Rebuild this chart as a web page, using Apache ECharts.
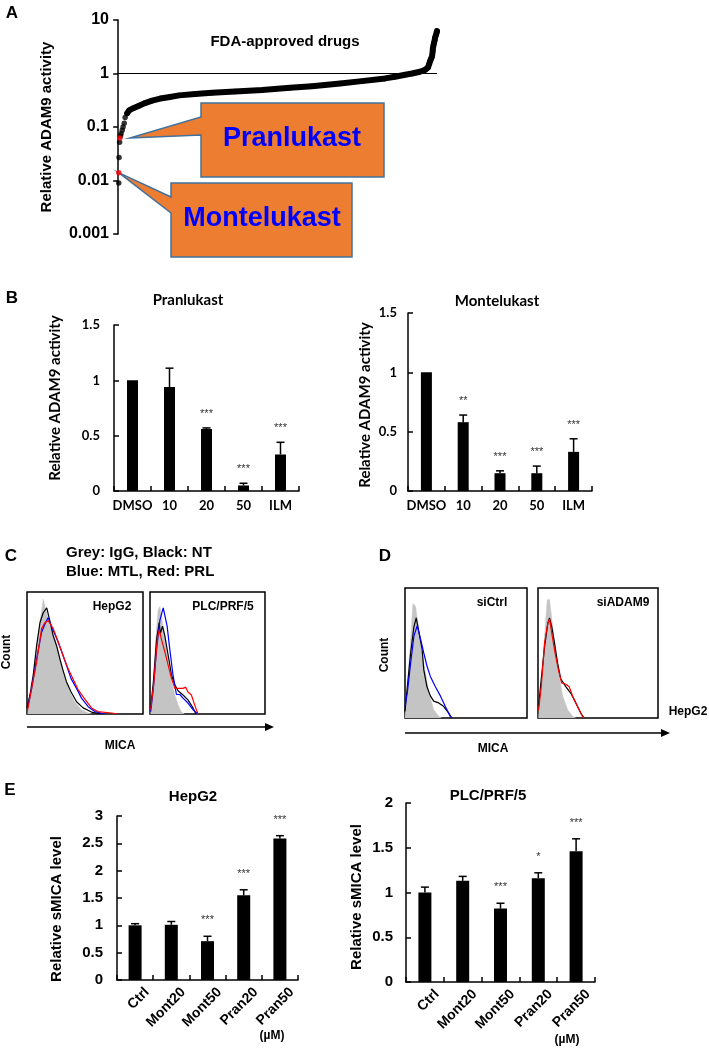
<!DOCTYPE html>
<html><head><meta charset="utf-8">
<script src="https://cdn.jsdelivr.net/npm/echarts/dist/echarts.min.js"></script>
<style>html,body{margin:0;padding:0;background:#fff}#chart{width:709px;height:1048px}</style>
</head><body><div id="chart"></div>
<script>
// ---------- Panel A : FDA-approved drug screen ----------
const aTickLabels = ['0.001', '0.01', '0.1', '1', '10'];
const drugRank = [10, 14, 17, 21, 24, 31, 38, 52, 72, 93, 117, 145, 179, 210, 266, 324, 403, 497, 593, 669, 766, 841, 921, 955, 990, 1014, 1041, 1059, 1069, 1073, 1076, 1080, 1083, 1085, 1086, 1088, 1090, 1092, 1093, 1095, 1097, 1099, 1100];
const drugActivity = [0.075, 0.087, 0.10, 0.117, 0.15, 0.18, 0.205, 0.225, 0.25, 0.28, 0.31, 0.34, 0.365, 0.39, 0.415, 0.435, 0.46, 0.49, 0.54, 0.58, 0.65, 0.72, 0.81, 0.87, 0.95, 1.0, 1.08, 1.17, 1.3, 1.5, 1.7, 1.9, 2.1, 2.6, 3.0, 3.4, 3.8, 4.2, 4.6, 5.0, 5.4, 5.8, 6.2];
const lowRank = [2, 3, 5, 8];
const lowActivity = [0.009, 0.027, 0.052, 0.068];
const highlightNames = ['Montelukast', 'Pranlukast'];
const highlightRank = [2, 6];
const highlightActivity = [0.014, 0.062];

// ---------- Panel B ----------
const bCats = ['DMSO', '10', '20', '50', 'ILM'];
const pranMean = [1.0, 0.94, 0.56, 0.05, 0.33];
const pranErr = [0, 0.17, 0.01, 0.02, 0.11];
const pranSig = ['', '', '***', '***', '***'];
const montMean = [1.0, 0.58, 0.15, 0.15, 0.33];
const montErr = [0, 0.06, 0.02, 0.06, 0.11];
const montSig = ['', '**', '***', '***', '***'];

// ---------- Panel C / D : flow histograms [channel %, count %] ----------
const cHep_IgG = [[0.6,0],[4,21],[8.3,53.5],[11.2,75],[14,94],[16,86],[19.8,72],[24,62],[27,51],[30,40],[32.7,29],[37,18],[41,10],[47,3.5],[52.7,0.8],[55.6,0]];
const cHep_NT = [[0,5],[2.6,16],[5.4,32],[8.3,56],[11.2,75],[14,83],[17,87],[17.8,84],[20,75],[22.6,64],[25.5,56],[28.4,45],[31,36],[34,26.5],[38,18],[42.7,10],[48.4,5],[55.6,1.6],[64,0]];
const cHep_MTL = [[0.6,5],[4,21],[8.3,45],[12.6,67],[16,75],[18.3,79],[21,72],[25.5,62],[30,51],[34,40],[38,29],[42.7,21],[47,13],[52.7,6],[58.5,2],[67,0]];
const cHep_PRL = [[0.6,3.5],[4,21],[8.3,43],[12.6,70],[15.5,75],[18.3,76.5],[22.6,70],[27,59],[31,48],[35.5,37],[40,28],[44,20],[50,12],[55.6,5],[61,2],[72.8,0.8],[78.5,0]];
const cPlc_IgG = [[0.6,0],[2.9,21],[5,61],[7,85],[8.6,88],[10,80],[13,61],[15.8,42],[18.7,26],[21.6,15.6],[24.4,7.5],[27,2],[30,0]];
const cPlc_NT = [[0.6,5],[2.9,26],[5.7,61],[8,75],[9,66],[10.9,72],[12.9,64],[15.8,48],[18.7,32],[21.6,24],[24.4,19],[28.7,15.6],[33,11.6],[37.4,5],[40,0]];
const cPlc_MTL = [[0.6,2],[2.9,21],[5.7,53],[8.6,77],[11.5,87],[12.9,86],[14.9,72],[17.2,53],[20,32],[23,16],[25.9,16],[28.7,13],[33,9],[37.4,3.5],[41.7,0]];
const cPlc_PRL = [[0.6,3.5],[3.4,26],[6.3,61],[8,69],[10,61],[12.9,51],[15.8,40],[18.7,29],[21.6,21],[25.9,21],[28.7,21],[31,22],[33,18],[36,15.6],[38.8,7.5],[41.7,0]];
const dCtrl_IgG = [[0,0],[1.9,24],[4.6,60],[6.5,88],[8.6,86],[11.4,68],[14,50],[16.8,35],[19.5,19.5],[23.5,6.4],[27.6,1.3],[30,0]];
const dCtrl_NT = [[0,5],[1.9,24],[4.6,50],[7.3,70],[9.2,77],[11.4,66],[14,53],[15.4,37],[18,24],[20.8,17],[23.5,13],[27.6,11.6],[31.6,9],[35.7,3.9],[38.4,0]];
const dCtrl_MTL = [[0,9],[1.9,19.5],[4.6,42],[7.3,63],[10,71],[12.7,61],[15.4,50],[18,40],[20.8,32],[24.9,24],[29,17],[33,9],[37,1.3],[38.4,0]];
const dAdam_IgG = [[0.5,0],[2.7,24],[5.5,63],[7.7,91],[9.6,91],[12.3,70],[15,50],[17.8,32],[20.5,17],[24.7,6.4],[28.8,1.3],[31.5,0]];
const dAdam_NT = [[0.5,9],[2.7,30],[5.5,55],[8.2,73],[9.6,77],[11.5,70],[13.7,58],[16.4,42],[19,30],[23.3,24],[27.4,19],[31.5,11.5],[35.6,3.8],[38.4,0]];
const dAdam_PRL = [[0.5,6],[2.7,24],[5.5,58],[8.2,73],[9.6,76],[11.5,65],[14.2,50],[17,37],[19.7,27],[23.3,26],[26,24],[28.8,17],[32.9,9],[37,1.3],[38.4,0]];

// ---------- Panel E ----------
const eCats = ['Ctrl', 'Mont20', 'Mont50', 'Pran20', 'Pran50'];
const hepMean = [1.0, 1.01, 0.71, 1.55, 2.59];
const hepErr = [0.03, 0.06, 0.09, 0.10, 0.05];
const hepSig = ['', '', '***', '***', '***'];
const plcMean = [1.0, 1.13, 0.82, 1.16, 1.46];
const plcErr = [0.06, 0.05, 0.06, 0.06, 0.14];
const plcSig = ['', '', '***', '*', '***'];

// ================= build =================
const ARIAL = '"Liberation Sans", Arial, sans-serif';
const CAL = 'Lato, "Open Sans", sans-serif';
const chart = echarts.init(document.getElementById('chart'), null, {renderer: 'canvas'});

const grids = [], xAxes = [], yAxes = [], series = [];

function addGrid(g) { g.outerBoundsMode = 'none'; g.containLabel = false; grids.push(g); return grids.length - 1; }

// Panel A
const gA = addGrid({left: 117, top: 20, width: 320, height: 214});
xAxes.push({gridIndex: gA, type: 'value', min: -4, max: 1100, show: false});
yAxes.push({gridIndex: gA, type: 'log', logBase: 10, min: 0.001, max: 10,
  axisLine: {show: true, lineStyle: {color: '#000', width: 1.5}},
  axisTick: {show: true, inside: false, length: 5, lineStyle: {color: '#000', width: 1.5}},
  minorTick: {show: false}, splitLine: {show: false}, minorSplitLine: {show: false},
  axisLabel: {color: '#000', fontFamily: ARIAL, fontWeight: 'bold', fontSize: 16, margin: 8,
    formatter: v => aTickLabels[Math.round(Math.log10(v)) + 3]}});
series.push({type: 'line', xAxisIndex: gA, yAxisIndex: gA, clip: false, silent: true,
  data: drugRank.map((r, i) => [r, drugActivity[i]]).filter(p => p[0] >= 31),
  showSymbol: false, lineStyle: {color: '#000', width: 6, cap: 'round', join: 'round'},
  markLine: {silent: true, symbol: 'none', label: {show: false}, animation: false,
    lineStyle: {color: '#000', width: 1, type: 'solid'}, data: [{yAxis: 1}]}});
series.push({type: 'scatter', xAxisIndex: gA, yAxisIndex: gA, clip: false, silent: true,
  symbolSize: 5.5, itemStyle: {color: '#000'},
  data: drugRank.map((r, i) => [r, drugActivity[i]]).concat(lowRank.map((r, i) => [r, lowActivity[i]]))});
series.push({type: 'scatter', xAxisIndex: gA, yAxisIndex: gA, clip: false, silent: true, z: 5,
  symbolSize: 5.5, itemStyle: {color: '#FF0000'},
  data: highlightRank.map((r, i) => ({name: highlightNames[i], value: [r, highlightActivity[i]]}))});

// Bar panels
function barPanel(rect, cats, mean, err, sig, o) {
  const g = addGrid(rect);
  xAxes.push({gridIndex: g, type: 'category', data: cats,
    axisLine: {lineStyle: {color: '#000', width: 1.5}},
    axisTick: {show: true, inside: true, length: 5, alignWithLabel: false, lineStyle: {color: '#000', width: 1.5}},
    axisLabel: {show: !o.rotLabels, color: '#000', fontFamily: o.font, fontWeight: 'bold', fontSize: o.xFont, margin: 8, interval: 0}});
  yAxes.push({gridIndex: g, type: 'value', min: 0, max: o.max, interval: 0.5,
    axisLine: {show: true, lineStyle: {color: '#000', width: 1.5}},
    axisTick: {show: true, inside: true, length: 5, lineStyle: {color: '#000', width: 1.5}},
    splitLine: {show: false},
    axisLabel: {color: '#000', fontFamily: o.font, fontWeight: 'bold', fontSize: o.yFont, margin: o.yMargin}});
  series.push({type: 'bar', xAxisIndex: g, yAxisIndex: g, data: mean, barWidth: o.barWidth,
    itemStyle: {color: '#000'}, silent: true});
  series.push({type: 'custom', xAxisIndex: g, yAxisIndex: g, z: 3, silent: true, clip: false,
    data: mean.map((m, i) => [i, m, m + err[i]]),
    renderItem: (params, api) => {
      const b = api.coord([api.value(0), api.value(1)]);
      const t = api.coord([api.value(0), api.value(2)]);
      const base = api.coord([api.value(0), 0]);
      const ch = [];
      if (t[1] < b[1] - 0.5) {
        ch.push({type: 'line', shape: {x1: b[0], y1: b[1], x2: b[0], y2: t[1]}, style: {stroke: '#000', lineWidth: 1.5}});
        ch.push({type: 'line', shape: {x1: b[0] - 4, y1: t[1], x2: b[0] + 4, y2: t[1]}, style: {stroke: '#000', lineWidth: 1.5}});
      }
      const s = sig[params.dataIndex];
      if (s) ch.push({type: 'text', x: b[0], y: t[1] - o.starGap,
        style: {text: s, fill: '#333', font: '11px ' + ARIAL, align: 'center', verticalAlign: 'middle'}});
      if (o.rotLabels) ch.push({type: 'text', x: b[0] + 12, y: base[1] + 10, rotation: Math.PI / 4,
        style: {text: cats[params.dataIndex], fill: '#000', font: 'bold ' + o.xFont + 'px ' + o.font, align: 'right', verticalAlign: 'middle'}});
      return {type: 'group', children: ch};
    }});
}
barPanel({left: 114, top: 325, width: 185, height: 166}, bCats, pranMean, pranErr, pranSig,
  {max: 1.5, font: CAL, xFont: 13, yFont: 13, yMargin: 14, barWidth: 11, starGap: 14});
barPanel({left: 408, top: 313, width: 184, height: 178}, bCats, montMean, montErr, montSig,
  {max: 1.5, font: CAL, xFont: 13, yFont: 13, yMargin: 11, barWidth: 11, starGap: 14});

// Histogram panels
function histPanel(rect, igg, curves) {
  const g = addGrid(Object.assign({show: true, borderColor: '#000', borderWidth: 1.5, backgroundColor: 'rgba(0,0,0,0)'}, rect));
  xAxes.push({gridIndex: g, type: 'value', min: 0, max: 100, show: false});
  yAxes.push({gridIndex: g, type: 'value', min: 0, max: 100, show: false});
  series.push({type: 'line', xAxisIndex: g, yAxisIndex: g, data: igg, showSymbol: false, silent: true,
    lineStyle: {width: 0.5, color: '#C4C4C4'}, areaStyle: {color: '#C4C4C4', opacity: 1}});
  curves.forEach(c => series.push({type: 'line', xAxisIndex: g, yAxisIndex: g, data: c.data, showSymbol: false,
    silent: true, lineStyle: {width: 1.2, color: c.color}}));
}
histPanel({left: 27, top: 592, width: 116, height: 122}, cHep_IgG,
  [{data: cHep_NT, color: '#000'}, {data: cHep_MTL, color: '#0000FF'}, {data: cHep_PRL, color: '#FF0000'}]);
histPanel({left: 150, top: 592, width: 115, height: 122}, cPlc_IgG,
  [{data: cPlc_NT, color: '#000'}, {data: cPlc_MTL, color: '#0000FF'}, {data: cPlc_PRL, color: '#FF0000'}]);
histPanel({left: 405, top: 588, width: 122, height: 130}, dCtrl_IgG,
  [{data: dCtrl_NT, color: '#000'}, {data: dCtrl_MTL, color: '#0000FF'}]);
histPanel({left: 538, top: 588, width: 120, height: 130}, dAdam_IgG,
  [{data: dAdam_NT, color: '#000'}, {data: dAdam_PRL, color: '#FF0000'}]);

// Panel E
barPanel({left: 117, top: 816, width: 181, height: 164}, eCats, hepMean, hepErr, hepSig,
  {max: 3, font: ARIAL, xFont: 14, yFont: 15, yMargin: 14, barWidth: 13, starGap: 16, rotLabels: true});
barPanel({left: 406, top: 803, width: 189, height: 179}, eCats, plcMean, plcErr, plcSig,
  {max: 2, font: ARIAL, xFont: 14, yFont: 15, yMargin: 13, barWidth: 13, starGap: 16, rotLabels: true});

// Text annotations
function txt(x, y, text, size, opt) {
  opt = opt || {};
  return {type: 'text', x: x, y: y, rotation: opt.rot || 0, z: 50,
    style: {text: text, fill: opt.color || '#000', font: 'bold ' + size + 'px ' + (opt.font || ARIAL),
      align: opt.align || 'center', verticalAlign: 'middle'}};
}
function arrow(x1, x2, y) {
  return [{type: 'line', z: 50, shape: {x1: x1, y1: y, x2: x2 - 6, y2: y}, style: {stroke: '#000', lineWidth: 1.5}},
    {type: 'polygon', z: 50, shape: {points: [[x2, y], [x2 - 9, y - 4], [x2 - 9, y + 4]]}, style: {fill: '#000'}}];
}
const R90 = Math.PI / 2;
const baseGraphics = [
  txt(12, 13, 'A', 17), txt(12, 298, 'B', 17), txt(11, 556, 'C', 17), txt(385, 556, 'D', 17), txt(10, 790, 'E', 17),
  txt(47, 127, 'Relative ADAM9 activity', 15, {rot: R90}),
  txt(285, 42, 'FDA-approved drugs', 15),
  txt(188, 300, 'Pranlukast', 15, {font: CAL}),
  txt(497, 301, 'Montelukast', 15, {font: CAL}),
  txt(55, 398, 'Relative ADAM9 activity', 15, {rot: R90, font: CAL}),
  txt(365, 405, 'Relative ADAM9 activity', 15, {rot: R90, font: CAL}),
  txt(66, 553, 'Grey: IgG, Black: NT', 15, {align: 'left'}),
  txt(66, 572, 'Blue: MTL, Red: PRL', 15, {align: 'left'}),
  txt(112, 607, 'HepG2', 12), txt(223, 607, 'PLC/PRF/5', 12),
  txt(7, 652, 'Count', 12, {rot: R90}), txt(385, 655, 'Count', 12, {rot: R90}),
  txt(120, 746, 'MICA', 12), txt(493, 749, 'MICA', 12),
  txt(492, 603, 'siCtrl', 12), txt(623, 603, 'siADAM9', 12), txt(688, 712, 'HepG2', 12),
  txt(193, 797, 'HepG2', 15), txt(488, 796, 'PLC/PRF/5', 15),
  txt(57, 909, 'Relative sMICA level', 15, {rot: R90}),
  txt(357, 897, 'Relative sMICA level', 15, {rot: R90}),
  txt(272, 1036, '(µM)', 12), txt(567, 1040, '(µM)', 12)
].concat(arrow(27, 274, 727), arrow(405, 670, 733));

chart.setOption({
  animation: false, backgroundColor: '#fff',
  grid: grids, xAxis: xAxes, yAxis: yAxes, series: series, graphic: baseGraphics
});

// Callouts anchored to the highlighted drugs (drawn beneath the dots)
const pTip = chart.convertToPixel({gridIndex: gA}, [highlightRank[1], highlightActivity[1]]);
const mTip = chart.convertToPixel({gridIndex: gA}, [highlightRank[0], highlightActivity[0]]);
const calloutStyle = {fill: '#ED7D31', stroke: '#41719C', lineWidth: 1.5};
const callouts = [
  {type: 'polygon', z: 1, shape: {points: [[201,103],[384,103],[384,177],[201,177],[201,135],[pTip[0] + 10, pTip[1]],[201,117]]}, style: calloutStyle},
  {type: 'polygon', z: 1, shape: {points: [[171,183],[352,183],[352,257],[171,257],[171,213],[mTip[0], mTip[1]],[171,197]]}, style: calloutStyle},
  Object.assign(txt(292, 139, highlightNames[1], 27, {color: '#0000FF'}), {z: 61}),
  Object.assign(txt(262, 219, highlightNames[0], 27, {color: '#0000FF'}), {z: 61})
];
chart.setOption({graphic: baseGraphics.concat(callouts)}, {replaceMerge: ['graphic']});
</script></body></html>
